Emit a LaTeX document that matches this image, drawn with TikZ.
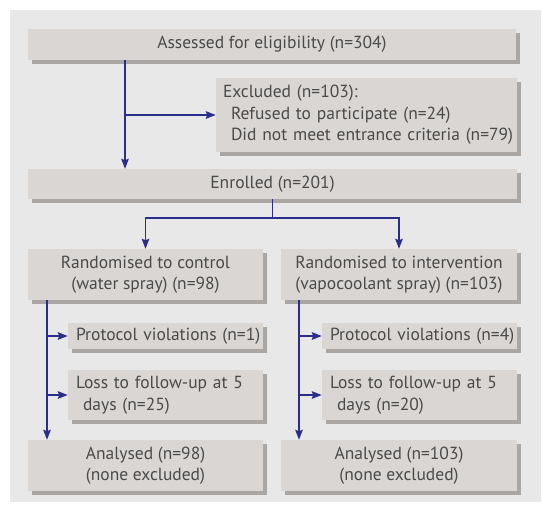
\documentclass[tikz,border=0pt]{standalone}
\usepackage{fontspec}
\setmainfont{PT Sans}
\usetikzlibrary{arrows.meta,shadows}
\definecolor{bgc}{HTML}{E8E8E8}
\definecolor{boxc}{HTML}{D9D6D3}
\definecolor{shc}{HTML}{A9A6A4}
\definecolor{linec}{HTML}{2B2D8C}
\definecolor{txtc}{HTML}{4A4A4A}
\tikzset{
  box/.style={fill=boxc, draw=none, inner sep=0pt, text=txtc,
    font=\fontsize{17.5}{21.5}\selectfont,
    general shadow={fill=shc, shadow xshift=3.5pt, shadow yshift=-3.5pt}},
  lbox/.style={box, align=left, inner xsep=8pt, text width=179pt, minimum width=195pt},
  conn/.style={draw=linec, line width=1.9pt},
  arr/.style={conn, -{Stealth[length=10pt,width=7.5pt,inset=1.5pt]}},
}
\begin{document}
\begin{tikzpicture}[x=1pt,y=-1pt]
\useasboundingbox (0,0) rectangle (543,504);
\fill[bgc] (10,10) rectangle (541,502);
% nodes
\node[box, minimum width=488pt, minimum height=31pt] (assess) at (272,44.5) {Assessed for eligibility (n=304)};
\node[box, minimum width=301pt, minimum height=74pt, text width=287pt, align=left, inner xsep=7pt] (excl) at (366.5,115)
  {\mbox{Excluded (n=103):}\\\mbox{\hspace*{8pt}Refused to participate (n=24)}\\\mbox{\hspace*{8pt}Did not meet entrance criteria (n=79)}};
\node[box, minimum width=489pt, minimum height=30pt] (enrol) at (272.5,184) {Enrolled (n=201)};
\node[box, minimum width=235pt, minimum height=51pt, align=center] (rc) at (145.5,274.5) {Randomised to control\\(water spray) (n=98)};
\node[box, minimum width=236pt, minimum height=51pt, align=center] (ri) at (399,274.5) {Randomised to intervention\\(vapocoolant spray) (n=103)};
\node[lbox, minimum height=26pt] (pc) at (165.5,336) {\mbox{Protocol violations (n=1)}};
\node[lbox, minimum height=26pt] (pi) at (419.5,336) {\mbox{Protocol violations (n=4)}};
\node[lbox, minimum height=50pt] (lc) at (165.5,395) {\mbox{Loss to follow-up at 5}\\\mbox{\hspace*{7pt}days (n=25)}};
\node[lbox, minimum height=50pt] (li) at (419.5,395) {\mbox{Loss to follow-up at 5}\\\mbox{\hspace*{7pt}days (n=20)}};
\node[box, minimum width=235pt, minimum height=51pt, align=center] (ac) at (145.5,465.5) {Analysed (n=98)\\(none excluded)};
\node[box, minimum width=236pt, minimum height=51pt, align=center] (ai) at (399,465.5) {Analysed (n=103)\\(none excluded)};
% helper coordinates
\coordinate (c1) at (125,0);
\coordinate (cl) at (47,0);
\coordinate (cr) at (299,0);
\coordinate (split) at (272.5,218);
% connectors
\draw[arr] (assess.south -| c1) -- (enrol.north -| c1);
\draw[arr] (excl.west -| c1) -- (excl.west);
\draw[conn] (enrol.south) -- (split);
\draw[arr] (split) -| (rc.north);
\draw[arr] (split) -| (ri.north);
\draw[arr] (rc.south -| cl) -- (ac.north -| cl);
\draw[arr] (pc.west -| cl) -- (pc.west);
\draw[arr] (lc.west -| cl) -- (lc.west);
\draw[arr] (ri.south -| cr) -- (ai.north -| cr);
\draw[arr] (pi.west -| cr) -- (pi.west);
\draw[arr] (li.west -| cr) -- (li.west);
\end{tikzpicture}
\end{document}
